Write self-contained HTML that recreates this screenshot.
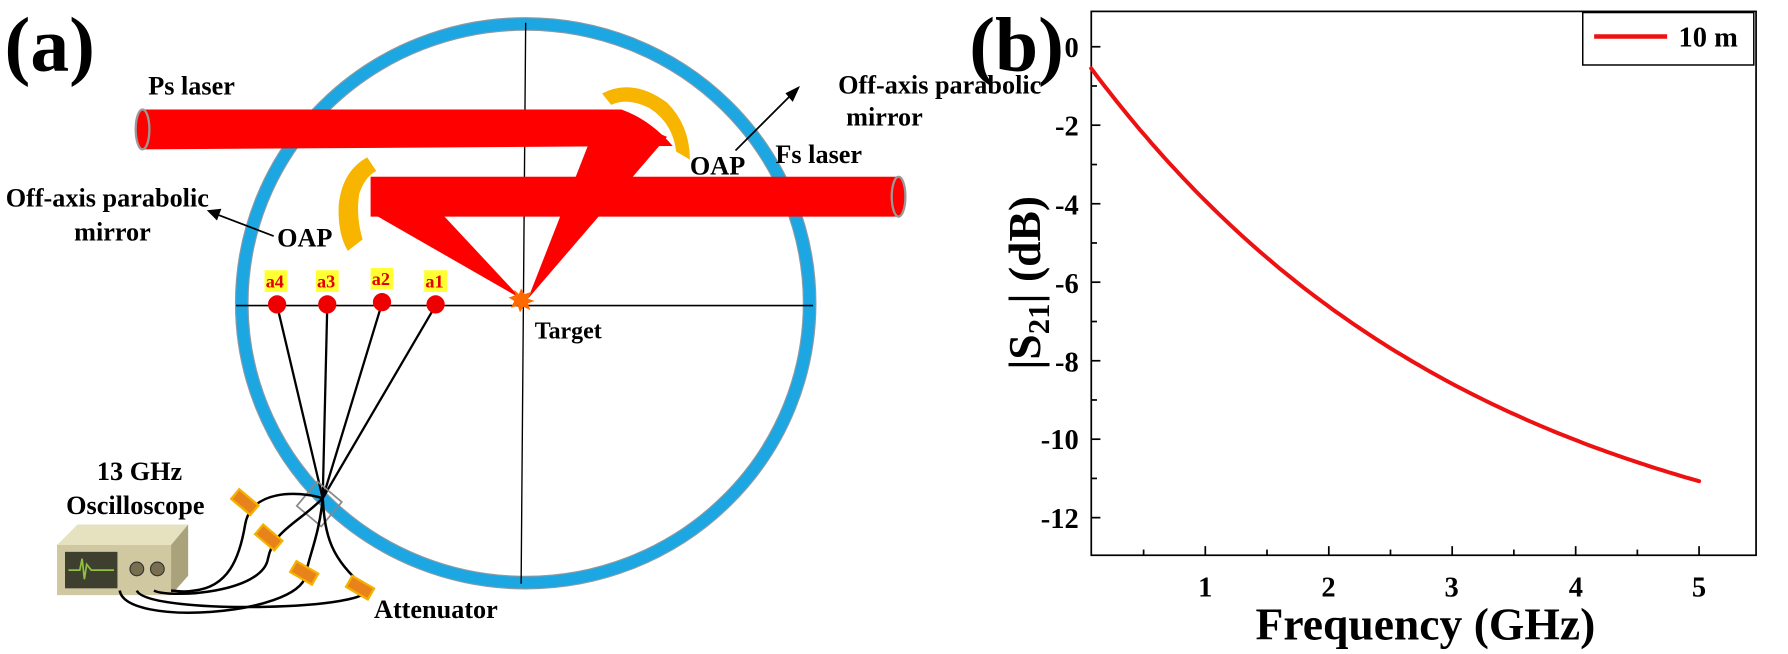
<!DOCTYPE html>
<html><head><meta charset="utf-8"><style>html,body{margin:0;padding:0;background:#fff}svg{display:block}</style></head>
<body>
<svg width="1788" height="654" viewBox="0 0 1568 573.6" preserveAspectRatio="none" xmlns="http://www.w3.org/2000/svg" font-family="Liberation Serif, serif" font-weight="bold">
<!-- Panel a -->
<text x="4" y="62" font-size="68">(a)</text>
<ellipse cx="461" cy="266" rx="249" ry="245" fill="none" stroke="#8a9aa5" stroke-width="12"/>
<ellipse cx="461" cy="266" rx="249" ry="245" fill="none" stroke="#1ca7e2" stroke-width="10"/>
<line x1="207" y1="268" x2="713" y2="268" stroke="#000" stroke-width="1.5"/>
<line x1="461" y1="20" x2="457" y2="512" stroke="#000" stroke-width="1.2"/>
<!-- beams -->
<polygon points="528,96 585,120 463,262" fill="#ff0000"/>
<polygon points="328,188 388,188 457,262" fill="#ff0000"/>
<path d="M125,96 L545,96 Q570,105 590,128 L125,131 Z" fill="#ff0000"/>
<rect x="325" y="155" width="463" height="35" fill="#ff0000"/>
<ellipse cx="125" cy="113.5" rx="6" ry="17.5" fill="#ff0000" stroke="#999" stroke-width="2"/>
<ellipse cx="788" cy="172.5" rx="6" ry="17.5" fill="#ff0000" stroke="#999" stroke-width="2"/>
<!-- mirrors -->
<path d="M528,82 Q555,68 585,90 Q605,110 605,140 L593,133 Q590,108 570,95 Q550,85 536,92 Z" fill="#f7b500"/>
<path d="M322,138 Q300,150 297,180 Q296,205 305,220 L318,210 Q312,190 315,170 Q320,155 330,150 Z" fill="#f7b500"/>
<!-- target -->
<polygon points="457,253 460,258 466,256 463,262 469,264 463,266 465,272 459,269 456,274 454,268 448,270 451,264 446,261 452,259 451,254 455,258" fill="#ff6a00"/>
<text x="469" y="297" font-size="21">Target</text>
<!-- sensors -->
<g font-size="16" fill="#e00000">
<rect x="232" y="237" width="20" height="19" fill="#ffff33"/><text x="233" y="252">a4</text>
<rect x="277" y="237" width="20" height="19" fill="#ffff33"/><text x="278" y="252">a3</text>
<rect x="325" y="235" width="20" height="19" fill="#ffff33"/><text x="326" y="250">a2</text>
<rect x="372" y="237" width="20" height="19" fill="#ffff33"/><text x="373" y="252">a1</text>
</g>
<g stroke="#000" stroke-width="2">
<line x1="243" y1="268" x2="283" y2="437"/><line x1="287" y1="268" x2="283" y2="437"/>
<line x1="335" y1="266" x2="283" y2="437"/><line x1="382" y1="268" x2="283" y2="437"/>
</g>
<g fill="#ee0000"><circle cx="243" cy="267" r="8"/><circle cx="287" cy="267" r="8"/><circle cx="335" cy="265" r="8"/><circle cx="382" cy="267" r="8"/></g>
<rect x="266" y="428" width="28" height="28" fill="none" stroke="#888" stroke-width="1.5" transform="rotate(40 280 442)"/>
<!-- oscilloscope -->
<polygon points="50,478 68,460 165,460 150,478" fill="#e6e2c0"/>
<polygon points="150,478 165,460 165,505 150,522" fill="#a9a27a"/>
<rect x="50" y="478" width="100" height="44" fill="#cfc8a0"/>
<rect x="57" y="484" width="46" height="32" fill="#3f3f2f"/>
<polyline points="60,500 70,500 72,490 74,508 76,495 80,500 100,500" fill="none" stroke="#8fc040" stroke-width="1.5"/>
<circle cx="120" cy="499" r="6" fill="#7a6e50" stroke="#333"/><circle cx="138" cy="499" r="6" fill="#7a6e50" stroke="#333"/>
<g fill="none" stroke="#000" stroke-width="2.2">
<path d="M283,437 C260,430 220,430 215,460 C210,490 200,515 170,518 C160,520 155,518 150,518"/>
<path d="M283,437 C260,460 240,465 235,490 C230,520 150,525 135,518"/>
<path d="M283,437 C285,470 290,490 320,515 C340,535 130,540 120,518"/>
<path d="M283,437 C280,470 270,490 268,505 C260,540 110,550 105,518"/>
</g>
<g fill="#e8821a" stroke="#f5b000" stroke-width="2">
<rect x="204" y="435" width="22" height="11" transform="rotate(40 215 440)"/>
<rect x="225" y="466" width="22" height="11" transform="rotate(40 236 471)"/>
<rect x="256" y="497" width="22" height="11" transform="rotate(30 267 502)"/>
<rect x="305" y="510" width="22" height="11" transform="rotate(30 316 515)"/>
</g>
<!-- labels a -->
<g font-size="23">
<text x="130" y="83">Ps laser</text>
<text x="735" y="82">Off-axis parabolic</text>
<text x="742" y="110">mirror</text>
<text x="605" y="153">OAP</text>
<text x="680" y="143">Fs laser</text>
<text x="5" y="181">Off-axis parabolic</text>
<text x="65" y="211">mirror</text>
<text x="243" y="216">OAP</text>
<text x="85" y="421">13 GHz</text>
<text x="58" y="451">Oscilloscope</text>
<text x="328" y="542">Attenuator</text>
</g>
<g stroke="#000" stroke-width="1.5" fill="#000">
<line x1="645" y1="132" x2="695" y2="82"/><polygon points="700,77 690,82 695,88"/>
<line x1="240" y1="207" x2="190" y2="188"/><polygon points="183,185 193,184 190,192"/>
</g>
<!-- Panel b -->
<text x="850" y="62" font-size="68">(b)</text>
<rect x="957" y="10" width="583" height="477" fill="none" stroke="#000" stroke-width="1.5"/>
<g stroke="#000" stroke-width="1.5">
<line x1="1057" y1="487" x2="1057" y2="479"/><line x1="1165.3" y1="487" x2="1165.3" y2="479"/>
<line x1="1273.5" y1="487" x2="1273.5" y2="479"/><line x1="1381.8" y1="487" x2="1381.8" y2="479"/>
<line x1="1490" y1="487" x2="1490" y2="479"/>
<line x1="1002.9" y1="487" x2="1002.9" y2="482"/><line x1="1111.1" y1="487" x2="1111.1" y2="482"/>
<line x1="1219.4" y1="487" x2="1219.4" y2="482"/><line x1="1327.6" y1="487" x2="1327.6" y2="482"/>
<line x1="1435.9" y1="487" x2="1435.9" y2="482"/>
<line x1="957" y1="41" x2="965" y2="41"/><line x1="957" y1="109.8" x2="965" y2="109.8"/>
<line x1="957" y1="178.7" x2="965" y2="178.7"/><line x1="957" y1="247.5" x2="965" y2="247.5"/>
<line x1="957" y1="316.4" x2="965" y2="316.4"/><line x1="957" y1="385.2" x2="965" y2="385.2"/>
<line x1="957" y1="454" x2="965" y2="454"/>
<line x1="957" y1="75.4" x2="962" y2="75.4"/><line x1="957" y1="144.3" x2="962" y2="144.3"/>
<line x1="957" y1="213.1" x2="962" y2="213.1"/><line x1="957" y1="282" x2="962" y2="282"/>
<line x1="957" y1="350.8" x2="962" y2="350.8"/><line x1="957" y1="419.6" x2="962" y2="419.6"/>
</g>
<g font-size="25" text-anchor="end">
<text x="946" y="50">0</text><text x="946" y="119">-2</text><text x="946" y="188">-4</text>
<text x="946" y="257">-6</text><text x="946" y="326">-8</text><text x="946" y="394">-10</text><text x="946" y="463">-12</text>
</g>
<g font-size="25" text-anchor="middle">
<text x="1057" y="523">1</text><text x="1165" y="523">2</text><text x="1273" y="523">3</text><text x="1382" y="523">4</text><text x="1490" y="523">5</text>
</g>
<text x="1250" y="561" font-size="40" text-anchor="middle">Frequency (GHz)</text>
<text transform="translate(912 248) rotate(-90)" font-size="40" text-anchor="middle">|S<tspan font-size="27" dy="8">21</tspan><tspan dy="-8">| (dB)</tspan></text>
<polyline id="crv" points="" fill="none" stroke="#ee1111" stroke-width="3.5" stroke-linejoin="round" stroke-linecap="round"/>
<rect x="1388" y="11" width="150" height="46" fill="#fff" stroke="#000" stroke-width="1.3"/>
<line x1="1398" y1="32" x2="1462" y2="32" stroke="#ee1111" stroke-width="4"/>
<text x="1472" y="41" font-size="25">10 m</text>
</svg>
<script>
var p=[];for(var i=0;i<=100;i++){var x=0.075+(5-0.075)*i/100;var v=-0.55-13.35*(1-Math.exp(-0.315*(x-0.075)));p.push((1057+(x-1)*108.25).toFixed(1)+","+(41-34.42*v).toFixed(1));}
document.getElementById("crv").setAttribute("points",p.join(" "));
</script>
</body></html>
